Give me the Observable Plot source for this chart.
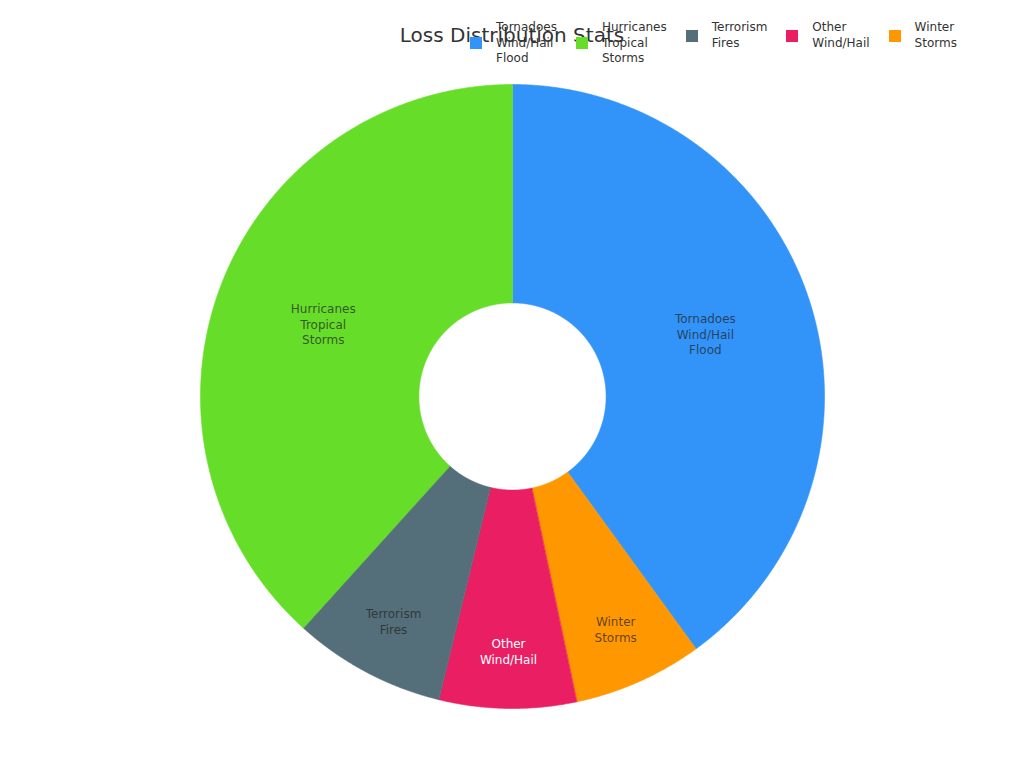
<!DOCTYPE html>
<html>
<head>
<meta charset="utf-8">
<script src="https://cdn.jsdelivr.net/npm/d3@7"></script>
<script src="https://cdn.jsdelivr.net/npm/@observablehq/plot@0.6"></script>
<style>
  html, body { margin: 0; padding: 0; background: #fff; }
  body { width: 1024px; height: 768px; position: relative; overflow: hidden; font-family: "DejaVu Sans", sans-serif; }
  #chart { position: absolute; left: 0; top: 0; }
  #title { position: absolute; left: 0; width: 1024px; top: 22px; text-align: center; font-size: 20px; color: #333; line-height: 26px; }
  #legend { position: absolute; left: 470px; top: 20px; display: flex; gap: 19px; align-items: flex-start; font-size: 12px; color: #333; }
  .item { display: flex; align-items: center; }
  .sw { width: 12px; height: 12px; margin-right: 14px; flex: none; }
  .lbl { line-height: 15.5px; white-space: pre; }
</style>
</head>
<body>
<div id="chart"></div>
<div id="title"></div>
<div id="legend"></div>
<script>
const title = "Loss Distribution Stats";
// slices in clockwise order from 12 o'clock
const categories = ["Tornadoes\nWind/Hail\nFlood", "Winter\nStorms", "Other\nWind/Hail", "Terrorism\nFires", "Hurricanes\nTropical\nStorms"];
const values = [40.0, 6.7, 7.1, 7.9, 38.3];
const colors = ["#3293F8", "#FF9800", "#E91E63", "#546E7A", "#66DD29"];
const lightLabel = [false, false, true, false, false];
const legendOrder = ["Tornadoes\nWind/Hail\nFlood", "Hurricanes\nTropical\nStorms", "Terrorism\nFires", "Other\nWind/Hail", "Winter\nStorms"];
const innerRatio = 0.3;

const W = 1024, H = 768, R = 312, cx = 512, cy = 396;

const arcs = d3.pie().sort(null).value(d => d.value)(categories.map((c, i) => ({category: c, value: values[i], light: lightLabel[i]})));

// polygon outline of each ring sector, in unit-radius coordinates
const outline = [];
arcs.forEach(a => {
  const n = Math.max(2, Math.ceil((a.endAngle - a.startAngle) / 0.005));
  for (let k = 0; k <= n; k++) {
    const t = a.startAngle + (a.endAngle - a.startAngle) * k / n;
    outline.push({category: a.data.category, x: Math.sin(t), y: Math.cos(t)});
  }
  for (let k = n; k >= 0; k--) {
    const t = a.startAngle + (a.endAngle - a.startAngle) * k / n;
    outline.push({category: a.data.category, x: innerRatio * Math.sin(t), y: innerRatio * Math.cos(t)});
  }
});

// labels: at the sector centroid for large slices, pushed outward for narrow slices
const total = d3.sum(values);
const labels = arcs.map(a => {
  const m = (a.startAngle + a.endAngle) / 2;
  const r = a.data.value / total < 0.1 ? 0.815 : (1 + innerRatio) / 2;
  return {text: a.data.category, light: a.data.light, x: r * Math.sin(m), y: r * Math.cos(m)};
});

const plot = Plot.plot({
  width: W, height: H,
  marginTop: 0, marginBottom: 0, marginLeft: 0, marginRight: 0,
  x: {axis: null, domain: [-cx / R, (W - cx) / R]},
  y: {axis: null, domain: [-(H - cy) / R, cy / R]},
  color: {domain: categories, range: colors},
  style: {fontFamily: "DejaVu Sans, sans-serif", background: "transparent"},
  marks: [
    Plot.line(outline, {x: "x", y: "y", z: "category", fill: "category", stroke: "category", strokeWidth: 0.6, curve: "linear-closed"}),
    Plot.text(labels.filter(d => !d.light), {x: "x", y: "y", text: "text", fill: "#222", fillOpacity: 0.72, fontSize: 12, lineHeight: 1.3}),
    Plot.text(labels.filter(d => d.light), {x: "x", y: "y", text: "text", fill: "#fff", fontSize: 12, lineHeight: 1.3})
  ]
});
document.getElementById("chart").appendChild(plot);
document.getElementById("title").textContent = title;

const legend = document.getElementById("legend");
legendOrder.forEach(c => {
  const item = document.createElement("div");
  item.className = "item";
  const sw = document.createElement("div");
  sw.className = "sw";
  sw.style.background = colors[categories.indexOf(c)];
  const lbl = document.createElement("div");
  lbl.className = "lbl";
  lbl.textContent = c;
  item.appendChild(sw);
  item.appendChild(lbl);
  legend.appendChild(item);
});
</script>
</body>
</html>
